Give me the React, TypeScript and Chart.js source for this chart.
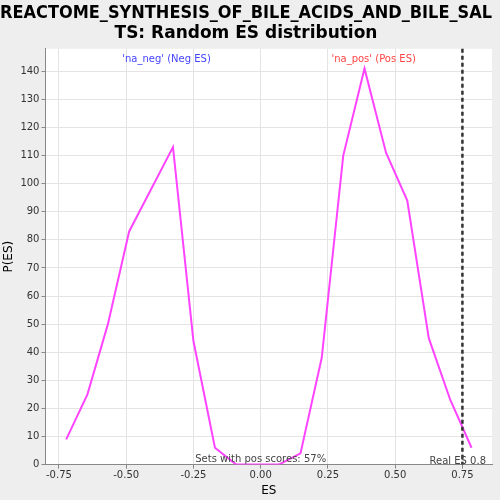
import React, { useEffect, useRef } from "react";
import { Chart, registerables } from "chart.js";
Chart.register(...registerables);

const esValues = [-0.723, -0.644, -0.568, -0.489, -0.326, -0.25, -0.17, -0.091, -0.011, 0.068, 0.148, 0.227, 0.307, 0.386, 0.466, 0.545, 0.625, 0.705, 0.784];
const pValues = [9, 25, 50, 83, 113, 44, 6, 0, 0, 0, 4, 38, 110, 141, 111, 94, 45, 23, 6];
const realES = 0.75;
const xTicks = [-0.75, -0.5, -0.25, 0, 0.25, 0.5, 0.75];

const overlay = {
  id: "overlay",
  beforeDraw(c: any) {
    const { ctx, chartArea: a } = c;
    ctx.save();
    ctx.fillStyle = "#eeeeee";
    ctx.fillRect(0, 0, c.width, c.height);
    ctx.fillStyle = "#ffffff";
    ctx.fillRect(a.left, a.top, a.right - a.left, a.bottom - a.top);
    ctx.restore();
  },
  afterDatasetsDraw(c: any) {
    const { ctx, chartArea: a, scales } = c;
    const x = scales.x.getPixelForValue(realES);
    ctx.save();
    ctx.strokeStyle = "#333";
    ctx.lineWidth = 2.5;
    ctx.setLineDash([4, 3]);
    ctx.beginPath();
    ctx.moveTo(x, a.top);
    ctx.lineTo(x, a.bottom);
    ctx.stroke();
    ctx.setLineDash([]);
    ctx.font = "10px 'DejaVu Sans'";
    ctx.fillStyle = "#4444ff";
    ctx.textAlign = "center";
    ctx.fillText("'na_neg' (Neg ES)", scales.x.getPixelForValue(-0.35), a.top + 13);
    ctx.fillStyle = "#ff4444";
    ctx.fillText("'na_pos' (Pos ES)", scales.x.getPixelForValue(0.42), a.top + 13);
    ctx.fillStyle = "#444";
    ctx.fillText("Sets with pos scores: 57%", scales.x.getPixelForValue(0), a.bottom - 3);
    ctx.textAlign = "right";
    ctx.fillText("Real ES 0.8", a.right - 6, a.bottom - 1);
    ctx.restore();
  },
};

export default function App() {
  const ref = useRef<HTMLCanvasElement>(null);
  useEffect(() => {
    const chart = new Chart(ref.current!, {
      type: "line",
      data: {
        datasets: [{
          data: esValues.map((x, i) => ({ x, y: pValues[i] })),
          borderColor: "#ff44ff",
          borderWidth: 2,
          pointRadius: 0,
          tension: 0,
        }],
      },
      options: {
        animation: false,
        responsive: false,
        layout: { padding: { right: 8, bottom: 0, left: 0 } },
        plugins: {
          legend: { display: false },
          tooltip: { enabled: false },
          title: {
            display: true,
            text: ["REACTOME_SYNTHESIS_OF_BILE_ACIDS_AND_BILE_SAL", "TS: Random ES distribution"],
            font: { size: 17, weight: "bold", family: "'DejaVu Sans'" },
            color: "#000",
            padding: { top: 3, bottom: 5 },
          },
        },
        scales: {
          x: {
            type: "linear",
            min: -0.8,
            max: 0.86,
            afterBuildTicks: (s: any) => { s.ticks = xTicks.map((v) => ({ value: v })); },
            ticks: { callback: (v: any) => Number(v).toFixed(2), font: { size: 10, family: "'DejaVu Sans'" }, color: "#333", maxRotation: 0, padding: 1 },
            grid: { color: "#e4e4e4", tickColor: "#888", tickLength: 4 },
            border: { color: "#888" },
            title: { display: true, text: "ES", font: { size: 12, family: "'DejaVu Sans'" }, color: "#000", padding: { top: 1, bottom: 2 } },
          },
          y: {
            min: 0,
            max: 148,
            afterBuildTicks: (s: any) => { const t = []; for (let v = 0; v <= 140; v += 10) t.push({ value: v }); s.ticks = t; },
            ticks: { font: { size: 10, family: "'DejaVu Sans'" }, color: "#333", padding: 2 },
            grid: { color: "#e4e4e4", tickColor: "#888", tickLength: 4 },
            border: { color: "#888" },
            title: { display: true, text: "P(ES)", font: { size: 12, family: "'DejaVu Sans'" }, color: "#000", padding: 2 },
          },
        },
      },
      plugins: [overlay],
    } as any);
    return () => chart.destroy();
  }, []);
  return (
    <div style={{ position: "absolute", left: 0, top: 0, width: 500, height: 500 }}>
      <canvas ref={ref} width={500} height={500} />
    </div>
  );
}
